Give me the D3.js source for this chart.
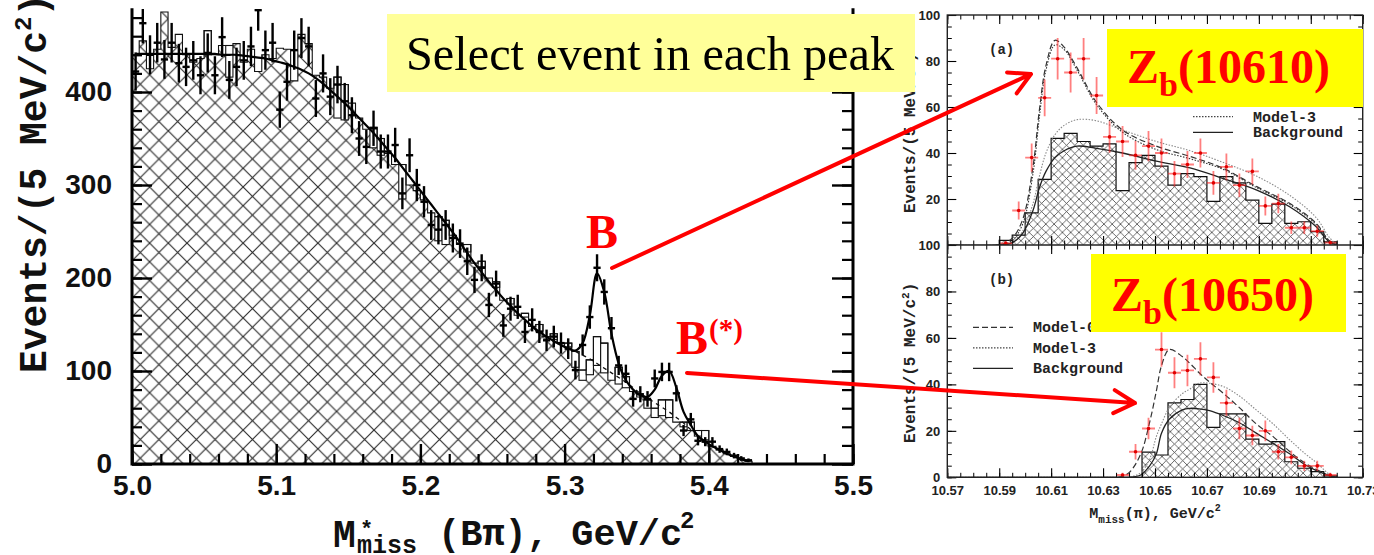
<!DOCTYPE html>
<html>
<head>
<meta charset="utf-8">
<script src="https://cdn.jsdelivr.net/npm/d3@7"></script>
<style>
  body { margin: 0; background: #fff; }
  svg { display: block; }
</style>
</head>
<body>
<svg id="chart" width="1374" height="555"></svg>
<script>
// ---------- Left panel: M*miss(Bπ) spectrum, 5 MeV bins from 5.000 GeV ----------
const leftBinStart = 5.0;
const leftBinWidth = 0.005;
const leftData = [422, 474, 440, 453, 435, 453, 431, 427, 434, 418, 442, 418, 459, 413, 427, 434, 449, 488, 445, 453,
  381, 411, 445, 458, 449, 393, 420, 395, 408, 390, 375, 350, 341, 361, 336, 336, 343, 291, 332, 300,
  282, 257, 252, 257, 243, 237, 218, 198, 211, 171, 194, 149, 167, 169, 142, 155, 142, 133, 137, 130,
  124, 101, 128, 158, 211, 185, 146, 106, 97, 70, 75, 70, 92, 99, 99, 76, 36, 48, 25, 24,
  24, 16, 13, 9, 6, 4];
const leftHatched = [440, 455, 425, 446, 486, 448, 462, 440, 432, 436, 440, 440, 450, 416, 452, 432, 446, 422, 440, 436,
  447, 446, 412, 462, 452, 418, 416, 404, 372, 370, 388, 372, 360, 340, 332, 334, 322, 285, 300, 294,
  284, 270, 240, 236, 246, 238, 228, 216, 212, 200, 190, 176, 172, 160, 158, 148, 143, 137, 134, 130,
  126, 104, 90, 96, 106, 98, 90, 86, 82, 78, 72, 60, 50, 52, 50, 45, 40, 36, 30, 26,
  19, 15, 11, 8, 5, 3];
const leftStacked = [440, 455, 425, 446, 486, 448, 462, 440, 432, 436, 466, 440, 450, 450, 452, 432, 446, 422, 440, 436,
  447, 446, 412, 462, 452, 418, 416, 404, 416, 408, 388, 372, 360, 362, 350, 334, 322, 322, 300, 294,
  284, 270, 266, 262, 246, 236, 236, 216, 218, 200, 196, 176, 178, 160, 162, 148, 150, 137, 140, 130,
  130, 121, 101, 112, 137, 130, 90, 104, 94, 78, 72, 69, 60, 69, 69, 45, 45, 45, 36, 36,
  19, 15, 11, 8, 5, 3];
const leftFit = [441, 441, 441, 441, 441, 441, 441, 441, 441, 441, 441, 441, 440, 440, 440, 439, 438, 437, 436, 434,
  432, 430, 427, 424, 420, 415, 409, 402, 395, 388, 380, 372, 364, 356, 347, 338, 329, 319, 309, 299,
  289, 279, 269, 259, 249, 238, 227, 216, 206, 196, 187, 178, 170, 162, 155, 148, 142, 137, 132, 128,
  124, 122, 130, 160, 205, 185, 140, 108, 90, 80, 74, 72, 80, 95, 100, 82, 56, 42, 30, 24,
  19, 15, 11, 8, 5, 3];
// background component under the two peaks (bins 61..79)
const leftBgFirstBin = 61;
const leftBg = [121, 117, 113, 108, 103, 98, 93, 88, 82, 76, 71, 66, 61, 56, 50, 44, 37, 30, 24];

const leftXTicks = [5.0, 5.1, 5.2, 5.3, 5.4, 5.5];
const leftXTickLabels = ["5.0", "5.1", "5.2", "5.3", "5.4", "5.5"];
const leftYTicks = [0, 100, 200, 300, 400];
const leftYTickLabels = ["0", "100", "200", "300", "400"];

// ---------- Right panels: M_miss(π) for events in each peak ----------
const rightXTicks = [10.57, 10.59, 10.61, 10.63, 10.65, 10.67, 10.69, 10.71, 10.73];
const rightXTickLabels = ["10.57", "10.59", "10.61", "10.63", "10.65", "10.67", "10.69", "10.71", "10.73"];
const panelAYTicks = [20, 40, 60, 80, 100];
const panelBYTicks = [0, 20, 40, 60, 80, 100];
const rightBinWidth = 0.005;

// (a) B peak -> Zb(10610)
const aHistStart = 10.590;
const aHist = [2, 4.3, 14, 28.5, 46.4, 48.5, 45, 43, 44, 23.6, 35.8, 39, 34.3, 26, 31, 29.7, 19, 29.7, 27, 19.5, 9.4, 17.8, 9.4, 10.1, 5.8, 1.4];
const aDataStart = 10.590;
const aData = [0.7, 15, 38, 64, 81, 75, 81, 65, 47, 45, 39, 43, 40, 31, 35, 40, 27, 34, 26, 32, 17, 18, 7.5, 7.5, 6, 1];
const aCurveX = [10.570, 10.590, 10.595, 10.599, 10.603, 10.6055, 10.608, 10.6115, 10.615, 10.620, 10.6275, 10.6375, 10.6505, 10.6635, 10.676, 10.689, 10.702, 10.712, 10.717, 10.720];
const aModel0 = [0, 0, 3, 11, 34, 59, 78, 89, 86, 77, 62, 50, 43, 38.5, 33.5, 25.5, 18, 9.5, 2, 0];
const aModel3 = [0, 0, 2, 9, 31, 56, 76, 87, 85, 76, 61, 49, 41.5, 37.5, 33, 25, 17.5, 9, 2, 0];
const aModel3Bg = [0, 0, 1, 6, 18, 30, 40, 48, 52, 54.5, 54, 50, 45, 41, 36, 30, 21.5, 12, 3.5, 0];
const aBackground = [0, 0, 1, 5, 15, 25, 32, 38, 41, 43, 42, 40, 36.5, 33.5, 29, 24, 16.5, 8, 1.5, 0];

// (b) B(*) peak -> Zb(10650)
const bHistStart = 10.645;
const bHist = [10.8, 9.6, 32, 33.5, 40, 21.5, 27.3, 27.3, 16.4, 14.3, 15.4, 6.7, 3.9, 2.4, 0.6];
const bDataStart = 10.635;
const bData = [1, 11, 21, 55, 45, 46, 51, 43, 32, 21, 18, 20, 11, 8.6, 4.9, 4.9, 1];
const bCurveX = [10.570, 10.636, 10.640, 10.6445, 10.648, 10.6505, 10.6525, 10.6555, 10.6605, 10.6635, 10.667, 10.671, 10.6765, 10.6825, 10.689, 10.6955, 10.702, 10.708, 10.712, 10.7175, 10.720];
const bModel0 = [0, 0, 2, 10, 24, 37, 48, 55, 52, 49, 45, 41, 36, 30, 23, 17.5, 11, 6, 3.5, 0.6, 0];
const bModel3 = [0, 0, 0, 2, 8, 17.5, 23, 30, 36, 38, 40.5, 40.5, 39, 35, 29, 23, 16, 10, 6.5, 1, 0];
const bBackground = [0, 0, 0, 1, 5, 10, 19, 25, 29, 29.7, 29.5, 28.7, 26.5, 23.5, 19, 14.6, 10, 5.3, 3, 0.6, 0];

const legendA = ["Model-3", "Background"];
const legendB = ["Model-0", "Model-3", "Background"];

// ---------- setup ----------
const svg = d3.select("#chart");
const defs = svg.append("defs");

function crossHatch(id, size, color, width) {
  defs.append("pattern")
    .attr("id", id)
    .attr("patternUnits", "userSpaceOnUse")
    .attr("width", size).attr("height", size)
    .append("path")
    .attr("d", `M0,0L${size},${size}M${size},0L0,${size}`)
    .attr("stroke", color).attr("stroke-width", width).attr("fill", "none");
}
crossHatch("hatchLeft", 18.7, "#2a2a2a", 1.15);
crossHatch("hatchRight", 8.3, "#3a3a3a", 0.75);

// step outline of a histogram through the scales
function stepPath(start, width, values, x, y, closed) {
  const p = d3.path();
  p.moveTo(x(start), y(0));
  values.forEach((v, i) => {
    p.lineTo(x(start + i * width), y(v));
    p.lineTo(x(start + (i + 1) * width), y(v));
  });
  p.lineTo(x(start + values.length * width), y(0));
  if (closed) p.closePath();
  return p.toString();
}

// ================= LEFT PANEL =================
const xL = d3.scaleLinear().domain([5.0, 5.5]).range([132, 853]);
const yL = d3.scaleLinear().domain([0, 490]).range([464, 8.3]);

defs.append("clipPath").attr("id", "clipL")
  .append("rect").attr("x", xL(5.0)).attr("y", 9).attr("width", xL(5.5) - xL(5.0)).attr("height", yL(0) - 9);

const left = svg.append("g").attr("clip-path", "url(#clipL)");

// hatched background histogram
left.append("path")
  .attr("d", stepPath(leftBinStart, leftBinWidth, leftHatched, xL, yL, true))
  .attr("fill", "url(#hatchLeft)");

// open boxes stacked on top of the hatched part
left.selectAll("rect.stack")
  .data(leftStacked.map((v, i) => ({ i, top: v, base: leftHatched[i] })).filter(d => d.top > d.base))
  .join("rect")
  .attr("class", "stack")
  .attr("x", d => xL(leftBinStart + d.i * leftBinWidth))
  .attr("width", d => xL(leftBinStart + (d.i + 1) * leftBinWidth) - xL(leftBinStart + d.i * leftBinWidth))
  .attr("y", d => yL(d.top))
  .attr("height", d => yL(d.base) - yL(d.top))
  .attr("fill", "#fff").attr("stroke", "#111").attr("stroke-width", 1.1);

// histogram outline
left.append("path")
  .attr("d", stepPath(leftBinStart, leftBinWidth, leftStacked, xL, yL, false))
  .attr("fill", "none").attr("stroke", "#111").attr("stroke-width", 1.1);

// dashed background component under the peaks
left.append("path")
  .datum(leftBg)
  .attr("d", d3.line()
    .x((d, i) => xL(leftBinStart + (leftBgFirstBin + i + 0.5) * leftBinWidth))
    .y(d => yL(d))
    .curve(d3.curveCatmullRom))
  .attr("fill", "none").attr("stroke", "#111").attr("stroke-width", 1.3).attr("stroke-dasharray", "4,4");

// fit curve
left.append("path")
  .datum(leftFit)
  .attr("d", d3.line()
    .x((d, i) => xL(leftBinStart + (i + 0.5) * leftBinWidth))
    .y(d => yL(d))
    .curve(d3.curveCatmullRom))
  .attr("fill", "none").attr("stroke", "#000").attr("stroke-width", 2.2);

// data points with errors
const leftPts = left.selectAll("g.pt").data(leftData).join("g").attr("class", "pt");
leftPts.append("line")
  .attr("x1", (d, i) => xL(leftBinStart + (i + 0.5) * leftBinWidth))
  .attr("x2", (d, i) => xL(leftBinStart + (i + 0.5) * leftBinWidth))
  .attr("y1", d => yL(d - Math.sqrt(d)))
  .attr("y2", d => yL(d + Math.sqrt(d)))
  .attr("stroke", "#000").attr("stroke-width", 2.4);
leftPts.append("line")
  .attr("x1", (d, i) => xL(leftBinStart + i * leftBinWidth))
  .attr("x2", (d, i) => xL(leftBinStart + (i + 1) * leftBinWidth))
  .attr("y1", d => yL(d)).attr("y2", d => yL(d))
  .attr("stroke", "#000").attr("stroke-width", 2.4);

// axes of the left panel
const axL = svg.append("g");
function styleAxis(g, w) {
  g.select(".domain").remove();
  g.selectAll(".tick line").attr("stroke", "#000").attr("stroke-width", w);
}
axL.append("g").attr("transform", `translate(0,${yL(0)})`)
  .call(d3.axisBottom(xL).tickValues(d3.range(5.0, 5.5001, 0.02)).tickFormat("").tickSizeInner(-10).tickSizeOuter(0))
  .call(g => styleAxis(g, 2.2));
axL.append("g").attr("transform", `translate(0,${yL(0)})`)
  .call(d3.axisBottom(xL).tickValues(leftXTicks).tickFormat((d, i) => leftXTickLabels[i]).tickSizeInner(-20).tickSizeOuter(0).tickPadding(11))
  .call(g => styleAxis(g, 2.4));
axL.append("g").attr("transform", `translate(${xL(5.0)},0)`)
  .call(d3.axisLeft(yL).tickValues(d3.range(0, 481, 20)).tickFormat("").tickSizeInner(-10).tickSizeOuter(0))
  .call(g => styleAxis(g, 2.2));
axL.append("g").attr("transform", `translate(${xL(5.0)},0)`)
  .call(d3.axisLeft(yL).tickValues(leftYTicks).tickFormat((d, i) => leftYTickLabels[i]).tickSizeInner(-20).tickSizeOuter(0).tickPadding(20))
  .call(g => styleAxis(g, 2.4));
axL.append("g").attr("transform", `translate(${xL(5.5)},0)`)
  .call(d3.axisRight(yL).tickValues(d3.range(0, 481, 20)).tickFormat("").tickSizeInner(-11).tickSizeOuter(0))
  .call(g => styleAxis(g, 2.2));
axL.append("g").attr("transform", `translate(${xL(5.5)},0)`)
  .call(d3.axisRight(yL).tickValues(leftYTicks).tickFormat("").tickSizeInner(-21).tickSizeOuter(0))
  .call(g => styleAxis(g, 2.4));
axL.selectAll("text")
  .attr("font-family", "'Liberation Sans', Arial, sans-serif")
  .attr("font-weight", "bold").attr("font-size", 28).attr("fill", "#111");

// frame lines
axL.append("path")
  .attr("d", `M${xL(5.0)},${yL(490)}L${xL(5.0)},${yL(0)}L${xL(5.5)},${yL(0)}L${xL(5.5)},${yL(490)}`)
  .attr("fill", "none").attr("stroke", "#000").attr("stroke-width", 3);

// axis titles
const mono = "'Liberation Mono', 'Courier New', monospace";
const yTitleL = svg.append("text")
  .attr("transform", "translate(46,373) rotate(-90)")
  .attr("font-family", mono).attr("font-weight", "bold").attr("font-size", 38).attr("fill", "#111");
yTitleL.append("tspan").text("Events/(5 MeV/c");
yTitleL.append("tspan").attr("dy", -15).attr("font-size", 24).text("2");
yTitleL.append("tspan").attr("dy", 15).text(")");

const xTitleL = svg.append("g").attr("font-family", mono).attr("font-weight", "bold").attr("fill", "#111");
xTitleL.append("text").attr("x", 333).attr("y", 547).attr("font-size", 38).text("M");
xTitleL.append("text").attr("x", 357).attr("y", 553).attr("font-size", 25).text("miss");
xTitleL.append("text").attr("x", 360).attr("y", 536).attr("font-size", 22).text("*");
xTitleL.append("text").attr("x", 438).attr("y", 545).attr("font-size", 37).text("(Bπ), GeV/c");
xTitleL.append("text").attr("x", 680).attr("y", 528).attr("font-size", 24).text("2");

// ================= RIGHT PANELS =================
const xR = d3.scaleLinear().domain([10.57, 10.73]).range([947.3, 1362.7]);
const yA = d3.scaleLinear().domain([0, 100]).range([245, 15]);
const yB = d3.scaleLinear().domain([0, 100]).range([477.3, 245]);

defs.append("clipPath").attr("id", "clipA")
  .append("rect").attr("x", xR(10.57)).attr("y", yA(100)).attr("width", xR(10.73) - xR(10.57)).attr("height", yA(0) - yA(100));
defs.append("clipPath").attr("id", "clipB")
  .append("rect").attr("x", xR(10.57)).attr("y", yB(100)).attr("width", xR(10.73) - xR(10.57)).attr("height", yB(0) - yB(100));

function drawPanel(clipId, y, histStart, hist, dataStart, data, curveX, curves) {
  const g = svg.append("g").attr("clip-path", `url(#${clipId})`);
  g.append("path").attr("d", stepPath(histStart, rightBinWidth, hist, xR, y, true)).attr("fill", "url(#hatchRight)");
  g.append("path").attr("d", stepPath(histStart, rightBinWidth, hist, xR, y, false))
    .attr("fill", "none").attr("stroke", "#111").attr("stroke-width", 1.2);
  curves.forEach(c => {
    g.append("path").datum(c.values)
      .attr("d", d3.line().x((d, i) => xR(curveX[i])).y(d => y(d)).curve(d3.curveCatmullRom))
      .attr("fill", "none").attr("stroke", c.color).attr("stroke-width", c.width)
      .attr("stroke-dasharray", c.dash);
  });
  const pts = g.selectAll("g.rp").data(data).join("g").attr("class", "rp");
  const cx = i => xR(dataStart + (i + 0.5) * rightBinWidth);
  pts.append("line")
    .attr("x1", (d, i) => cx(i)).attr("x2", (d, i) => cx(i))
    .attr("y1", d => y(d - Math.sqrt(Math.max(d, 1)))).attr("y2", d => y(d + Math.sqrt(Math.max(d, 1))))
    .attr("stroke", "#ff2a2a").attr("stroke-opacity", 0.6).attr("stroke-width", 1.8);
  pts.append("line")
    .attr("x1", (d, i) => xR(dataStart + i * rightBinWidth)).attr("x2", (d, i) => xR(dataStart + (i + 1) * rightBinWidth))
    .attr("y1", d => y(d)).attr("y2", d => y(d))
    .attr("stroke", "#ff2a2a").attr("stroke-opacity", 0.6).attr("stroke-width", 1.8);
  pts.append("circle")
    .attr("cx", (d, i) => cx(i)).attr("cy", d => y(d)).attr("r", 1.8).attr("fill", "#e00000");
}

drawPanel("clipA", yA, aHistStart, aHist, aDataStart, aData, aCurveX, [
  { values: aModel3Bg, color: "#8a8a8a", width: 1.1, dash: "1.5,1.5" },
  { values: aBackground, color: "#222", width: 1.3, dash: null },
  { values: aModel3, color: "#333", width: 1.1, dash: "1.5,1.5" },
  { values: aModel0, color: "#333", width: 1.2, dash: "6,3" }
]);
drawPanel("clipB", yB, bHistStart, bHist, bDataStart, bData, bCurveX, [
  { values: bModel3, color: "#8a8a8a", width: 1.1, dash: "1.5,1.5" },
  { values: bBackground, color: "#222", width: 1.3, dash: null },
  { values: bModel0, color: "#333", width: 1.2, dash: "6,3" }
]);

// right-panel axes
const axR = svg.append("g");
function rightTicks(y, yLabels, showX) {
  const xMinor = d3.range(10.57, 10.7301, 0.005);
  const yMinor = d3.range(0, 100.01, 5);
  [y(0), y(100)].forEach((ty, k) => {
    axR.append("g").attr("transform", `translate(0,${ty})`)
      .call((k === 0 ? d3.axisBottom(xR) : d3.axisTop(xR)).tickValues(xMinor).tickFormat("").tickSizeInner(-4.5).tickSizeOuter(0))
      .call(g => styleAxis(g, 1));
    axR.append("g").attr("transform", `translate(0,${ty})`)
      .call((k === 0 ? d3.axisBottom(xR) : d3.axisTop(xR)).tickValues(rightXTicks)
        .tickFormat((d, i) => (k === 0 && showX) ? rightXTickLabels[i] : "")
        .tickSizeInner(-9).tickSizeOuter(0).tickPadding(8.5))
      .call(g => styleAxis(g, 1.1));
  });
  [xR(10.57), xR(10.73)].forEach((tx, k) => {
    const ax = k === 0 ? d3.axisLeft(y) : d3.axisRight(y);
    axR.append("g").attr("transform", `translate(${tx},0)`)
      .call(ax.tickValues(yMinor).tickFormat("").tickSizeInner(-4.5).tickSizeOuter(0))
      .call(g => styleAxis(g, 1));
    const ax2 = k === 0 ? d3.axisLeft(y) : d3.axisRight(y);
    axR.append("g").attr("transform", `translate(${tx},0)`)
      .call(ax2.tickValues(yLabels).tickFormat(d => k === 0 ? String(d) : "").tickSizeInner(-9).tickSizeOuter(0).tickPadding(7))
      .call(g => styleAxis(g, 1.1));
  });
}
rightTicks(yA, panelAYTicks, false);
rightTicks(yB, panelBYTicks, true);
axR.selectAll("text")
  .attr("font-family", "'Liberation Sans', Arial, sans-serif")
  .attr("font-weight", "bold").attr("font-size", 13).attr("fill", "#222");
axR.append("rect")
  .attr("x", xR(10.57)).attr("y", yA(100))
  .attr("width", xR(10.73) - xR(10.57)).attr("height", yB(0) - yA(100))
  .attr("fill", "none").attr("stroke", "#222").attr("stroke-width", 1.4);
axR.append("line")
  .attr("x1", xR(10.57)).attr("x2", xR(10.73)).attr("y1", yA(0)).attr("y2", yA(0))
  .attr("stroke", "#222").attr("stroke-width", 1.4);

// right titles and panel tags
const monoR = svg.append("g").attr("font-family", mono).attr("font-weight", "bold").attr("fill", "#222");
[[213], [443]].forEach(([y0]) => {
  const t = monoR.append("text").attr("transform", `translate(915,${y0}) rotate(-90)`).attr("font-size", 16);
  t.append("tspan").text("Events/(5 MeV/c");
  t.append("tspan").attr("dy", -6).attr("font-size", 11).text("2");
  t.append("tspan").attr("dy", 6).text(")");
});
monoR.append("text").attr("x", 989).attr("y", 54).attr("font-size", 14).text("(a)");
monoR.append("text").attr("x", 989).attr("y", 284).attr("font-size", 14).text("(b)");
const xTitleR = monoR.append("text").attr("x", 1155).attr("y", 518).attr("text-anchor", "middle").attr("font-size", 15);
xTitleR.append("tspan").text("M");
xTitleR.append("tspan").attr("dy", 5).attr("font-size", 11).text("miss");
xTitleR.append("tspan").attr("dy", -5).text("(π), GeV/c");
xTitleR.append("tspan").attr("dy", -7).attr("font-size", 10).text("2");

// legends
const legStyles = {
  "Model-0": { dash: "6,3", color: "#333" },
  "Model-3": { dash: "1.5,1.5", color: "#444" },
  "Background": { dash: null, color: "#222" }
};
function legend(items, x0, y0, step) {
  items.forEach((name, i) => {
    const y = y0 + i * step;
    monoR.append("line").attr("x1", x0).attr("x2", x0 + 40).attr("y1", y).attr("y2", y)
      .attr("stroke", legStyles[name].color).attr("stroke-width", 1.2).attr("stroke-dasharray", legStyles[name].dash);
    monoR.append("text").attr("x", x0 + 60).attr("y", y + 5).attr("font-size", 15).text(name);
  });
}
legend(legendA, 1193, 116.7, 15.6);
legend(legendB, 973, 327.3, 20.5);

// ================= ANNOTATIONS =================
const ann = svg.append("g");
ann.append("rect").attr("x", 387).attr("y", 14).attr("width", 528).attr("height", 78).attr("fill", "#ffff99");
ann.append("text").attr("x", 406).attr("y", 70)
  .attr("font-family", "'Liberation Serif', 'Times New Roman', serif").attr("font-size", 48.3).attr("fill", "#000")
  .text("Select event in each peak");

function zbBox(x, y, w, h, tx, ty, mass) {
  ann.append("rect").attr("x", x).attr("y", y).attr("width", w).attr("height", h).attr("fill", "#ffff00");
  const t = ann.append("text").attr("x", tx).attr("y", ty)
    .attr("font-family", "'Liberation Serif', 'Times New Roman', serif").attr("font-weight", "bold")
    .attr("font-size", 48).attr("fill", "#ff0000");
  t.append("tspan").text("Z");
  t.append("tspan").attr("dy", 13).attr("font-size", 34).text("b");
  t.append("tspan").attr("dy", -13).text(`(${mass})`);
}
zbBox(1107, 29, 256, 78, 1127, 83, "10610");
zbBox(1091, 254, 255, 78, 1111, 311, "10650");

const serifRed = ann.append("g").attr("font-family", "'Liberation Serif', 'Times New Roman', serif")
  .attr("font-weight", "bold").attr("fill", "#ff0000");
serifRed.append("text").attr("x", 586).attr("y", 248).attr("font-size", 48).text("B");
serifRed.append("text").attr("x", 676).attr("y", 354).attr("font-size", 48).text("B");
serifRed.append("text").attr("x", 709).attr("y", 339).attr("font-size", 29).text("(*)");

// arrows from the peaks to the projections
const arrows = [
  { from: [612, 268], to: [1031, 74] },
  { from: [687, 373], to: [1135, 403] }
];
arrows.forEach(a => {
  const ang = Math.atan2(a.to[1] - a.from[1], a.to[0] - a.from[0]);
  const len = 24, spread = 0.5;
  const p = d3.path();
  p.moveTo(a.from[0], a.from[1]);
  p.lineTo(a.to[0], a.to[1]);
  p.moveTo(a.to[0] - len * Math.cos(ang - spread), a.to[1] - len * Math.sin(ang - spread));
  p.lineTo(a.to[0], a.to[1]);
  p.lineTo(a.to[0] - len * Math.cos(ang + spread), a.to[1] - len * Math.sin(ang + spread));
  ann.append("path").attr("d", p.toString())
    .attr("fill", "none").attr("stroke", "#ff0000").attr("stroke-width", 4)
    .attr("stroke-linecap", "round").attr("stroke-linejoin", "round");
});
</script>
</body>
</html>
